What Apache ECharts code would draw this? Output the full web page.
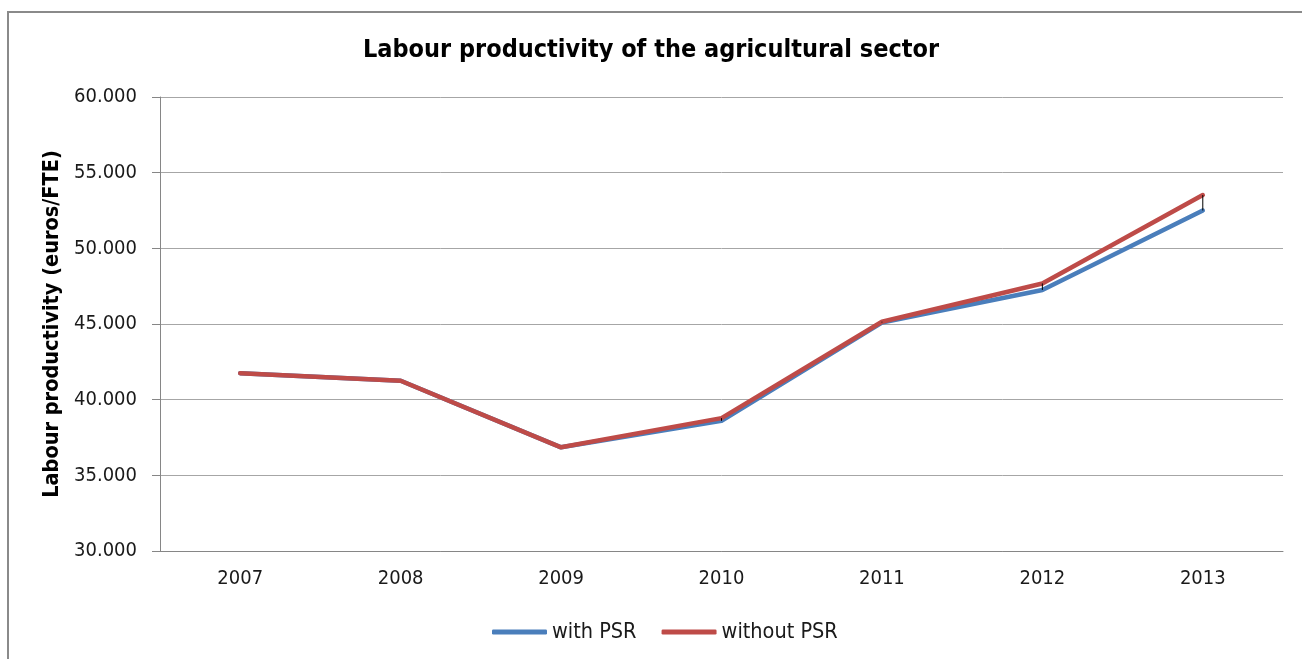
<!DOCTYPE html>
<html>
<head>
<meta charset="utf-8">
<script src="https://cdn.jsdelivr.net/npm/echarts@6/dist/echarts.min.js"></script>
<style>
  html, body { margin: 0; padding: 0; background: #fff; }
  #chart { width: 1302px; height: 659px; }
</style>
</head>
<body>
<div id="chart"></div>
<script>
const titleText = 'Labour productivity of the agricultural sector';
const yAxisName = 'Labour productivity (euros/FTE)';
const categories = ['2007', '2008', '2009', '2010', '2011', '2012', '2013'];
const withPSR = [41750, 41250, 36850, 38600, 45100, 47250, 52500];
const withoutPSR = [41750, 41250, 36850, 38780, 45150, 47680, 53520];
const yMin = 30000, yMax = 60000, yStep = 5000;

const FONT = '"DejaVu Sans Condensed", "DejaVu Sans", sans-serif';
const BLUE = '#4a7ebb', RED = '#be4b48';
const chart = echarts.init(document.getElementById('chart'));

const dropData = categories.map((c, i) => [i, withPSR[i], withoutPSR[i]]);

chart.setOption({
  animation: false,
  backgroundColor: '#ffffff',
  textStyle: { fontFamily: FONT },
  graphic: [{
    type: 'rect',
    shape: { x: 8, y: 12, width: 1400, height: 800 },
    style: { fill: 'none', stroke: '#8a8a8a', lineWidth: 2 },
    silent: true
  }],
  title: {
    text: titleText,
    left: 'center',
    top: 33,
    textStyle: { fontFamily: FONT, fontSize: 25, fontWeight: 'bold', color: '#000' }
  },
  legend: {
    bottom: 11,
    left: 487,
    icon: 'roundRect',
    itemWidth: 55,
    itemHeight: 5,
    itemGap: 25,
    data: [
      { name: 'with PSR', itemStyle: { color: BLUE } },
      { name: 'without PSR', itemStyle: { color: RED } }
    ],
    textStyle: { fontFamily: FONT, fontSize: 21.5, color: '#1a1a1a' }
  },
  grid: { left: 160, right: 19, top: 97, bottom: 108 },
  xAxis: {
    type: 'category',
    data: categories,
    boundaryGap: true,
    axisLine: { lineStyle: { color: '#868686', width: 1 } },
    axisTick: { show: false },
    axisLabel: { color: '#1a1a1a', fontSize: 20, margin: 18, fontFamily: FONT }
  },
  yAxis: {
    type: 'value',
    min: yMin, max: yMax, interval: yStep,
    name: yAxisName,
    nameLocation: 'middle',
    nameRotate: 90,
    nameGap: 91,
    nameTextStyle: { fontFamily: FONT, fontSize: 21.5, fontWeight: 'bold', color: '#000' },
    axisLine: { show: true, lineStyle: { color: '#868686', width: 1 } },
    axisTick: { show: true, length: 8, lineStyle: { color: '#868686' } },
    axisLabel: {
      color: '#1a1a1a', fontSize: 20, margin: 23, fontFamily: FONT,
      formatter: v => (v / 1000).toFixed(3)
    },
    splitLine: { lineStyle: { color: '#a6a6a6', width: 1 } }
  },
  series: [
    {
      name: 'with PSR',
      type: 'line',
      data: withPSR,
      symbol: 'none',
      lineStyle: { color: BLUE, width: 4.5, cap: 'round', join: 'round' },
      itemStyle: { color: BLUE },
      z: 2
    },
    {
      name: 'without PSR',
      type: 'line',
      data: withoutPSR,
      symbol: 'none',
      lineStyle: { color: RED, width: 4.5, cap: 'round', join: 'round' },
      itemStyle: { color: RED },
      z: 3
    },
    {
      name: 'drop',
      type: 'custom',
      data: dropData,
      z: 4,
      renderItem: function (params, api) {
        const p1 = api.coord([api.value(0), api.value(1)]);
        const p2 = api.coord([api.value(0), api.value(2)]);
        return {
          type: 'line',
          shape: { x1: p1[0], y1: p1[1], x2: p2[0], y2: p2[1] },
          style: { stroke: '#000', lineWidth: 1 }
        };
      },
      encode: { x: 0, y: [1, 2] }
    }
  ]
});
</script>
</body>
</html>
